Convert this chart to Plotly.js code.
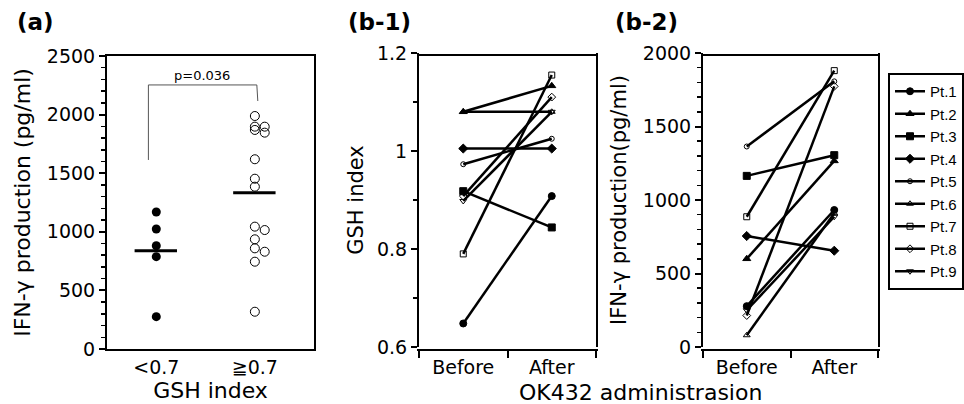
<!DOCTYPE html>
<html><head><meta charset="utf-8">
<script src="https://cdn.plot.ly/plotly-3.0.1.min.js"></script>
<style>html,body{margin:0;padding:0;background:#fff}#chart{width:964px;height:404px}</style>
</head><body><div id="chart"></div>
<script>
// ---------- Panel (a) data ----------
const groupLabels = ['<0.7', '\u22670.7'];
const lowGshIfn = [1169, 1024, 881, 788, 276];
const highGshIfnLeft = [1988, 1897, 1869, 1619, 1453, 1385, 1044, 936, 859, 745, 318];
const highGshIfnRight = [1897, 1846, 1015, 830];
const groupMeans = [839, 1334];
const pValueText = 'p=0.036';
const bracketY = [1613, 2253, 2116];

// ---------- Panel (b) data ----------
const timepoints = ['Before', 'After'];
const patients = ['Pt.1', 'Pt.2', 'Pt.3', 'Pt.4', 'Pt.5', 'Pt.6', 'Pt.7', 'Pt.8', 'Pt.9'];
const gshBefore = [0.648, 1.080, 0.918, 1.005, 0.973, 1.080, 0.790, 0.908, 0.898];
const gshAfter  = [0.908, 1.133, 0.844, 1.005, 1.025, 1.080, 1.155, 1.110, 1.080];
const ifnBefore = [278, 600, 1164, 755, 1364, 80, 886, 214, 250];
const ifnAfter  = [932, 1266, 1305, 655, 1807, 910, 1880, 1773, 886];

const symbols = ['circle', 'triangle-up', 'square', 'diamond', 'circle-open',
                 'triangle-up-open', 'square-open', 'diamond-open', 'triangle-down-open'];
const symSizes = [7, 7, 7, 7, 5, 6, 6, 6, 6];

const FONT = 'DejaVu Sans, Arial, sans-serif';
const LFONT = 'Liberation Sans, Arial, sans-serif';
const traces = [];

// Panel (a) points
traces.push({type: 'scatter', mode: 'markers', x: lowGshIfn.map(() => 0), y: lowGshIfn,
  xaxis: 'x', yaxis: 'y', showlegend: false,
  marker: {symbol: 'circle', size: 9, color: 'black'}});
traces.push({type: 'scatter', mode: 'markers', x: highGshIfnLeft.map(() => 1), y: highGshIfnLeft,
  xaxis: 'x', yaxis: 'y', showlegend: false,
  marker: {symbol: 'circle-open', size: 9, color: 'black', line: {width: 1}}});
traces.push({type: 'scatter', mode: 'markers', x: highGshIfnRight.map(() => 1.1), y: highGshIfnRight,
  xaxis: 'x', yaxis: 'y', showlegend: false,
  marker: {symbol: 'circle-open', size: 9, color: 'black', line: {width: 1}}});
// mean bars
groupMeans.forEach((m, i) => {
  traces.push({type: 'scatter', mode: 'lines', x: [i - 0.22, i + 0.21], y: [m, m],
    xaxis: 'x', yaxis: 'y', showlegend: false, line: {color: 'black', width: 3}});
});
// significance bracket
traces.push({type: 'scatter', mode: 'lines', x: [-0.08, -0.08, 1.02, 1.03], y: [bracketY[0], bracketY[1], bracketY[1], bracketY[2]],
  xaxis: 'x', yaxis: 'y', showlegend: false, line: {color: '#555', width: 1}, hoverinfo: 'skip'});

// Panels (b-1) and (b-2)
patients.forEach((p, i) => {
  const common = {type: 'scatter', mode: 'lines+markers', name: p,
    line: {color: 'black', width: 2.5},
    marker: {symbol: symbols[i], size: symSizes[i], color: 'black', line: {color: 'black', width: 1}}};
  traces.push(Object.assign({}, common, {x: [0, 1], y: [gshBefore[i], gshAfter[i]], xaxis: 'x2', yaxis: 'y2', showlegend: false}));
  traces.push(Object.assign({}, common, {x: [0, 1], y: [ifnBefore[i], ifnAfter[i]], xaxis: 'x3', yaxis: 'y3', showlegend: true}));
});

const W = 964, H = 404;
const dx = (a, b) => [a / W, b / W];
const dy = (top, bot) => [1 - bot / H, 1 - top / H];

const tickFont = {family: FONT, size: 19, color: 'black'};
const baseAxis = {showline: true, linecolor: 'black', linewidth: 2, mirror: true,
  showgrid: false, zeroline: false, tickfont: tickFont, tickcolor: 'black'};

const catXAxis = (domain, labels) => Object.assign({}, baseAxis, {
  domain: domain, range: [-0.5, 1.5], tickmode: 'array', tickvals: [0, 1], ticktext: labels,
  ticks: '', fixedrange: true,
  minor: {tickmode: 'linear', tick0: -0.5, dtick: 1, ticks: 'outside', ticklen: 7, tickwidth: 2, tickcolor: 'black'}
});

const layout = {
  width: W, height: H,
  margin: {l: 0, r: 0, t: 0, b: 0},
  paper_bgcolor: 'white', plot_bgcolor: 'white',
  font: {family: FONT, color: 'black'},
  showlegend: true,
  legend: {x: 1, xanchor: 'right', y: 1 - 73 / H, yanchor: 'top',
    bordercolor: 'black', borderwidth: 2, font: {family: LFONT, size: 15, color: 'black'},
    tracegroupgap: 0, itemwidth: 30},
  xaxis: Object.assign({}, baseAxis, {domain: dx(107, 314), range: [-0.5, 1.6],
    tickmode: 'array', tickvals: [0, 1], ticktext: groupLabels, ticks: '',
    title: {text: 'GSH index', font: {family: FONT, size: 22, color: 'black'}, standoff: 4}}),
  yaxis: Object.assign({}, baseAxis, {domain: dy(56, 349), range: [0, 2500], tickmode: 'linear', tick0: 0, dtick: 500,
    ticks: 'outside', ticklen: 6, tickwidth: 2,
    minor: {tickmode: 'linear', dtick: 100, ticks: 'outside', ticklen: 4, tickwidth: 1.5, tickcolor: 'black'},
    title: {text: 'IFN-\u03b3 production (pg/ml)', font: {family: FONT, size: 22, color: 'black'}, standoff: 10}}),
  xaxis2: catXAxis(dx(419, 596), timepoints),
  yaxis2: Object.assign({}, baseAxis, {domain: dy(53, 347), anchor: 'x2', range: [0.6, 1.2], tickmode: 'linear', tick0: 0.6, dtick: 0.2,
    ticks: 'outside', ticklen: 6, tickwidth: 2,
    minor: {tickmode: 'linear', dtick: 0.1, ticks: 'outside', ticklen: 4, tickwidth: 1.5, tickcolor: 'black'},
    title: {text: 'GSH index', font: {family: FONT, size: 21, color: 'black'}, standoff: 8}}),
  xaxis3: catXAxis(dx(703, 878), timepoints),
  yaxis3: Object.assign({}, baseAxis, {domain: dy(53, 347), anchor: 'x3', range: [0, 2000], tickmode: 'linear', tick0: 0, dtick: 500,
    ticks: 'outside', ticklen: 6, tickwidth: 2,
    minor: {tickmode: 'linear', dtick: 100, ticks: 'outside', ticklen: 4, tickwidth: 1.5, tickcolor: 'black'},
    title: {text: 'IFN-\u03b3 production(pg/ml)', font: {family: FONT, size: 21, color: 'black'}, standoff: 10}}),
  annotations: [
    {xref: 'x', yref: 'y', x: 0.46, y: 2330, text: pValueText, showarrow: false,
      font: {family: FONT, size: 13, color: 'black'}},
    {xref: 'paper', yref: 'paper', x: 15 / W, y: 1 - 22 / H, xanchor: 'left', yanchor: 'middle',
      text: '<b>(a)</b>', showarrow: false, font: {family: FONT, size: 23, color: 'black'}},
    {xref: 'paper', yref: 'paper', x: 346 / W, y: 1 - 22 / H, xanchor: 'left', yanchor: 'middle',
      text: '<b>(b-1)</b>', showarrow: false, font: {family: FONT, size: 23, color: 'black'}},
    {xref: 'paper', yref: 'paper', x: 613 / W, y: 1 - 22 / H, xanchor: 'left', yanchor: 'middle',
      text: '<b>(b-2)</b>', showarrow: false, font: {family: FONT, size: 23, color: 'black'}},
    {xref: 'paper', yref: 'paper', x: 640 / W, y: 1 - 392 / H, xanchor: 'center', yanchor: 'middle',
      text: 'OK432 administrasion', showarrow: false, font: {family: FONT, size: 22, color: 'black'}}
  ]
};

Plotly.newPlot('chart', traces, layout, {displayModeBar: false, staticPlot: true});
</script>
</body></html>
